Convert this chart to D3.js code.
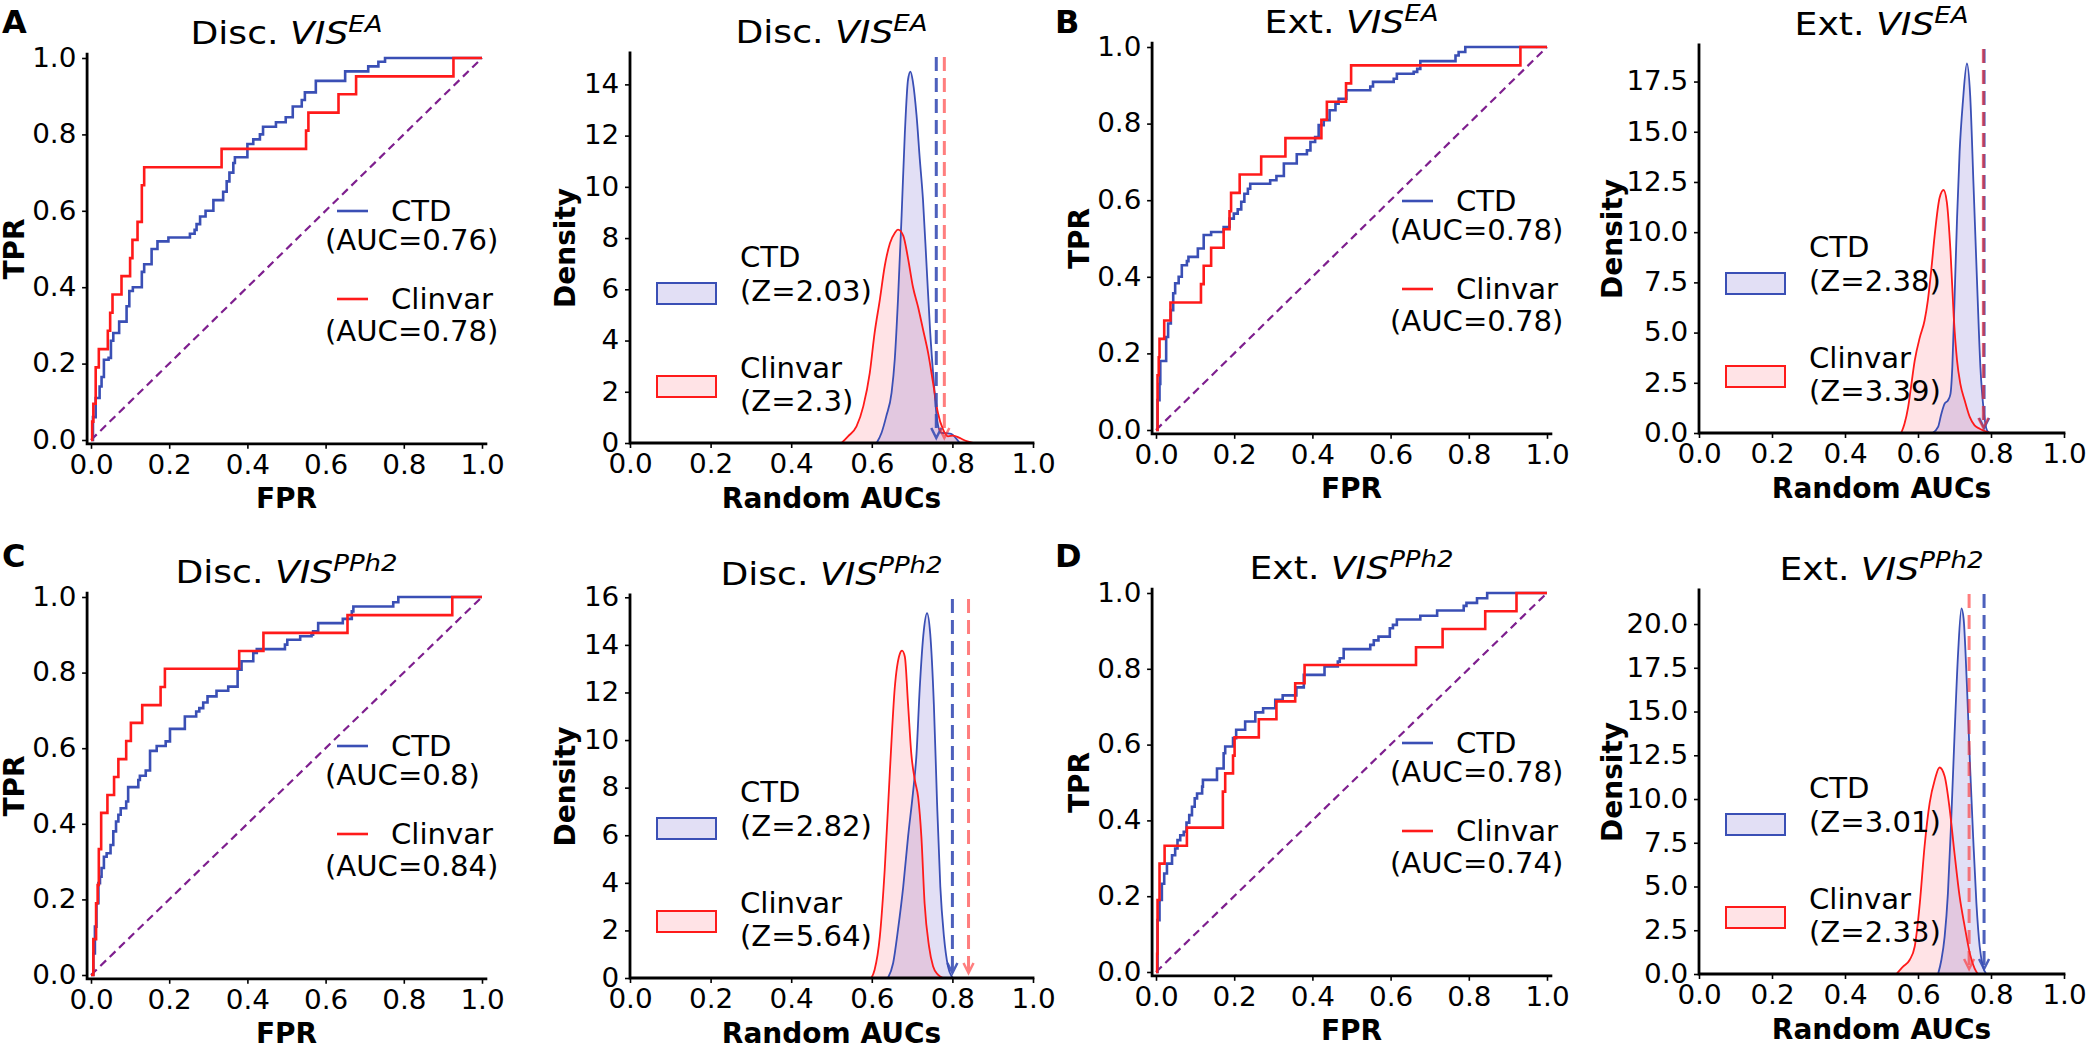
<!DOCTYPE html>
<html><head><meta charset="utf-8">
<script src="https://cdn.jsdelivr.net/npm/d3@7"></script>
<style>
body{margin:0;background:#fff}
svg{display:block}
text{font-family:"DejaVu Sans",sans-serif;fill:#000;white-space:pre}
</style>
</head><body>
<svg id="c" width="2100" height="1047"></svg>
<script>
// ---------------- DATA ----------------
const seriesNames = ["CTD", "Clinvar"];
const panelLetters = ["A", "B", "C", "D"];
const panelPrefixes = ["Disc.", "Ext.", "Disc.", "Ext."];
const panelSups = ["EA", "EA", "PPh2", "PPh2"];
const unitTicks = [0, 0.2, 0.4, 0.6, 0.8, 1.0];

// ROC step points [FPR, TPR reached at that FPR]
const rocA_ctd = [[0,0],[0.005,0.06],[0.012,0.11],[0.022,0.14],[0.027,0.165],[0.033,0.21],[0.045,0.215],[0.051,0.26],[0.057,0.28],[0.072,0.31],[0.091,0.35],[0.098,0.39],[0.107,0.40],[0.13,0.44],[0.136,0.46],[0.155,0.50],[0.17,0.52],[0.198,0.53],[0.253,0.54],[0.265,0.55],[0.27,0.565],[0.279,0.585],[0.293,0.60],[0.313,0.628],[0.338,0.65],[0.347,0.677],[0.354,0.70],[0.364,0.725],[0.368,0.74],[0.40,0.775],[0.415,0.787],[0.432,0.80],[0.44,0.82],[0.473,0.832],[0.498,0.845],[0.516,0.873],[0.539,0.89],[0.547,0.91],[0.575,0.94],[0.65,0.965],[0.709,0.978],[0.735,0.99],[0.752,1.0],[1,1]];
const rocA_clinvar = [[0,0],[0.003,0.048],[0.006,0.095],[0.012,0.19],[0.02,0.238],[0.043,0.286],[0.049,0.333],[0.055,0.381],[0.078,0.429],[0.10,0.476],[0.106,0.524],[0.119,0.571],[0.13,0.667],[0.136,0.714],[0.334,0.762],[0.55,0.81],[0.556,0.857],[0.633,0.905],[0.678,0.952],[0.927,1.0],[1,1]];
const rocB_ctd = [[0,0],[0.004,0.078],[0.009,0.12],[0.011,0.18],[0.026,0.243],[0.031,0.278],[0.038,0.313],[0.044,0.357],[0.049,0.383],[0.058,0.40],[0.066,0.43],[0.079,0.441],[0.083,0.452],[0.107,0.474],[0.122,0.509],[0.141,0.517],[0.173,0.53],[0.188,0.552],[0.199,0.565],[0.209,0.576],[0.218,0.596],[0.226,0.617],[0.235,0.63],[0.241,0.643],[0.292,0.652],[0.308,0.663],[0.327,0.696],[0.36,0.72],[0.386,0.73],[0.395,0.752],[0.407,0.765],[0.416,0.796],[0.429,0.809],[0.444,0.835],[0.459,0.852],[0.467,0.865],[0.487,0.887],[0.548,0.897],[0.555,0.909],[0.608,0.917],[0.616,0.93],[0.659,0.935],[0.668,0.943],[0.676,0.963],[0.766,0.978],[0.774,0.987],[0.791,1.0],[1,1]];
const rocB_clinvar = [[0,0],[0.004,0.143],[0.007,0.19],[0.009,0.238],[0.021,0.286],[0.037,0.333],[0.115,0.381],[0.122,0.429],[0.141,0.476],[0.173,0.524],[0.188,0.571],[0.192,0.619],[0.214,0.667],[0.269,0.714],[0.331,0.762],[0.423,0.81],[0.437,0.857],[0.486,0.905],[0.499,0.952],[0.932,1.0],[1,1]];
const rocC_ctd = [[0,0],[0.006,0.057],[0.01,0.128],[0.014,0.19],[0.019,0.243],[0.023,0.26],[0.027,0.283],[0.033,0.313],[0.04,0.322],[0.05,0.344],[0.057,0.38],[0.064,0.406],[0.07,0.424],[0.076,0.441],[0.09,0.459],[0.095,0.497],[0.121,0.516],[0.125,0.527],[0.14,0.541],[0.151,0.593],[0.168,0.606],[0.191,0.618],[0.202,0.651],[0.24,0.684],[0.269,0.697],[0.277,0.706],[0.287,0.721],[0.298,0.737],[0.321,0.752],[0.351,0.763],[0.375,0.808],[0.385,0.83],[0.415,0.852],[0.424,0.862],[0.496,0.874],[0.502,0.887],[0.535,0.896],[0.564,0.9],[0.568,0.909],[0.581,0.931],[0.644,0.942],[0.667,0.962],[0.671,0.975],[0.773,0.986],[0.786,1.0],[1,1]];
const rocC_clinvar = [[0,0],[0.006,0.095],[0.013,0.19],[0.017,0.238],[0.02,0.333],[0.026,0.429],[0.042,0.476],[0.059,0.524],[0.07,0.571],[0.09,0.619],[0.102,0.667],[0.131,0.714],[0.178,0.762],[0.189,0.81],[0.379,0.857],[0.441,0.905],[0.656,0.952],[0.924,1.0],[1,1]];
const rocD_ctd = [[0,0],[0.004,0.137],[0.009,0.19],[0.015,0.233],[0.021,0.26],[0.028,0.286],[0.041,0.308],[0.049,0.326],[0.055,0.348],[0.062,0.361],[0.071,0.37],[0.078,0.394],[0.085,0.414],[0.092,0.436],[0.099,0.458],[0.105,0.471],[0.118,0.489],[0.12,0.507],[0.156,0.537],[0.173,0.577],[0.177,0.595],[0.197,0.617],[0.205,0.639],[0.228,0.661],[0.254,0.685],[0.274,0.696],[0.305,0.718],[0.324,0.73],[0.359,0.751],[0.378,0.784],[0.431,0.806],[0.465,0.819],[0.47,0.828],[0.48,0.852],[0.548,0.863],[0.557,0.875],[0.569,0.885],[0.598,0.907],[0.606,0.916],[0.616,0.93],[0.676,0.94],[0.719,0.954],[0.787,0.966],[0.794,0.974],[0.821,0.986],[0.847,1.0],[1,1]];
const rocD_clinvar = [[0,0],[0.003,0.048],[0.004,0.19],[0.009,0.286],[0.022,0.333],[0.079,0.381],[0.171,0.476],[0.177,0.524],[0.197,0.571],[0.201,0.619],[0.263,0.667],[0.308,0.714],[0.356,0.762],[0.38,0.81],[0.665,0.857],[0.733,0.905],[0.842,0.952],[0.922,1.0],[1,1]];
const chanceLine = [[0,0],[1,1]];

const aucLabels = [["0.76","0.78"],["0.78","0.78"],["0.8","0.84"],["0.78","0.74"]];
const observedAUC = [[0.76,0.78],[0.781,0.779],[0.80,0.84],[0.781,0.74]];
const zLabels = [["2.03","2.3"],["2.38","3.39"],["2.82","5.64"],["3.01","2.33"]];

// KDE of random AUCs [AUC, density]
const densA_ctd = [[0.612,0],[0.624,0.39],[0.636,1.05],[0.649,1.96],[0.657,3.27],[0.665,5.6],[0.674,8.9],[0.682,12.1],[0.69,14.2],[0.696,14.5],[0.702,14.1],[0.711,12.8],[0.719,11.1],[0.727,9.5],[0.736,6.9],[0.745,4.3],[0.754,2.35],[0.762,0.9],[0.772,0.4],[0.785,0.38],[0.797,0.36],[0.808,0.2],[0.818,0]];
const densA_clinvar = [[0.525,0],[0.541,0.26],[0.562,0.65],[0.579,1.44],[0.595,2.74],[0.607,4.3],[0.62,5.6],[0.632,6.9],[0.645,7.8],[0.657,8.2],[0.665,8.33],[0.678,8.1],[0.69,7.2],[0.702,6.1],[0.715,5.3],[0.727,4.44],[0.74,3.5],[0.752,2.35],[0.764,1.18],[0.777,0.52],[0.789,0.26],[0.802,0.29],[0.818,0.2],[0.835,0.07],[0.851,0]];
const densB_ctd = [[0.64,0],[0.655,0.3],[0.664,0.96],[0.673,1.46],[0.682,1.62],[0.689,1.95],[0.694,3.27],[0.7,6.6],[0.707,10.7],[0.714,14.0],[0.723,16.5],[0.734,18.4],[0.743,16.8],[0.752,12.4],[0.762,7.4],[0.771,3.27],[0.78,1.12],[0.789,0.13],[0.796,0]];
const densB_clinvar = [[0.554,0],[0.563,0.46],[0.573,1.29],[0.582,2.45],[0.591,3.6],[0.605,4.76],[0.618,5.6],[0.627,6.6],[0.637,8.24],[0.646,9.9],[0.659,11.7],[0.67,12.1],[0.679,11.5],[0.689,9.06],[0.698,5.76],[0.707,3.6],[0.716,2.45],[0.728,1.62],[0.742,0.79],[0.755,0.38],[0.769,0.21],[0.783,0.1],[0.796,0]];
const densC_ctd = [[0.64,0],[0.653,0.63],[0.665,2.03],[0.678,3.84],[0.69,5.94],[0.702,7.76],[0.711,9.43],[0.719,12.2],[0.729,14.6],[0.737,15.33],[0.745,14.46],[0.754,11.5],[0.762,7.34],[0.77,3.84],[0.779,1.75],[0.789,0.49],[0.798,0.07],[0.802,0]];
const densC_clinvar = [[0.599,0],[0.607,0.35],[0.62,1.75],[0.632,4.54],[0.645,8.73],[0.657,12.2],[0.669,13.6],[0.675,13.76],[0.682,13.5],[0.69,11.5],[0.698,9.43],[0.707,8.3],[0.715,7.6],[0.723,5.94],[0.731,3.14],[0.742,1.33],[0.752,0.49],[0.764,0.14],[0.777,0]];
const densD_ctd = [[0.655,0],[0.664,0.8],[0.673,2.14],[0.682,4.62],[0.691,8.8],[0.7,13.6],[0.71,18.4],[0.719,20.9],[0.725,20.3],[0.734,16.5],[0.743,11.7],[0.751,7.87],[0.76,4.05],[0.769,1.57],[0.778,0.42],[0.787,0]];
const densD_clinvar = [[0.541,0],[0.559,0.42],[0.577,0.8],[0.591,1.57],[0.605,4.05],[0.618,7.3],[0.632,9.78],[0.646,11.1],[0.659,11.8],[0.673,11.3],[0.687,9.4],[0.7,6.9],[0.714,4.43],[0.728,2.71],[0.742,1.18],[0.755,0.32],[0.764,0]];

const densTicksA = [0,2,4,6,8,10,12,14];
const densTicksB = [0,2.5,5,7.5,10,12.5,15,17.5];
const densTicksC = [0,2,4,6,8,10,12,14,16];
const densTicksD = [0,2.5,5,7.5,10,12.5,15,17.5,20];

// ---------------- DRAWING ----------------
const svg = d3.select("#c");
const BLUE = "#3a4fb5", RED = "#ff1a1a", PURPLE = "#7e1f8e";
const BLUE_FILL = "rgba(96,80,200,0.18)", RED_FILL = "rgba(255,40,60,0.13)";

function txt(g, x, y, s, o = {}) {
  const size = o.size || 28, sx = o.sx || 1.04;
  return g.append("text")
    .attr("transform", `translate(${x},${y}) scale(${sx},1)` + (o.rot ? ` rotate(${o.rot})` : ""))
    .attr("font-size", size).attr("font-weight", o.weight || "normal")
    .attr("text-anchor", o.anchor || "start").text(s);
}
function title(g, cx, y, pre, sup) {
  const t = g.append("text").attr("transform", `translate(${cx},${y}) scale(1.13,1)`)
    .attr("text-anchor", "middle").attr("font-size", 32);
  t.append("tspan").text(pre + " ");
  t.append("tspan").attr("font-style", "italic").text("VIS");
  t.append("tspan").attr("font-style", "italic").attr("font-size", 23).attr("dy", -12).text(sup);
}
function styleAxis(a) {
  a.select(".domain").remove();
  a.selectAll(".tick line").attr("stroke", "#000").attr("stroke-width", 1.6);
  a.selectAll(".tick text").attr("font-size", 26).attr("fill", "#000")
    .attr("font-family", "DejaVu Sans, sans-serif")
    .attr("transform", "scale(1.07,1)");
}
function spines(g, L, T, B, R) {
  g.append("path").attr("d", `M${L},${T}V${B}H${R}`).attr("fill", "none")
    .attr("stroke", "#000").attr("stroke-width", 2.8).attr("stroke-linecap", "square");
}

function drawROC(i, p, ctd, clin) {
  const g = svg.append("g");
  const x = d3.scaleLinear().domain([0, 1]).range([p.x0, p.x1]);
  const y = d3.scaleLinear().domain([0, 1]).range([p.y0, p.y1]);
  const L = x(-0.01), R = x(1.01), B = y(-0.01), T = y(1.01);
  const xa = g.append("g").attr("transform", `translate(0,${B})`)
    .call(d3.axisBottom(x).tickValues(unitTicks).tickFormat(d3.format(".1f")).tickSize(5).tickPadding(7));
  const ya = g.append("g").attr("transform", `translate(${L},0)`)
    .call(d3.axisLeft(y).tickValues(unitTicks).tickFormat(d3.format(".1f")).tickSize(5).tickPadding(5));
  styleAxis(xa); styleAxis(ya);
  const lin = d3.line().x(d => x(d[0])).y(d => y(d[1]));
  g.append("path").attr("d", lin(chanceLine)).attr("fill", "none").attr("stroke", PURPLE)
    .attr("stroke-width", 2.2).attr("stroke-dasharray", "8,5");
  const step = d3.line().x(d => x(d[0])).y(d => y(d[1])).curve(d3.curveStepAfter);
  g.append("path").attr("d", step(ctd)).attr("fill", "none").attr("stroke", BLUE).attr("stroke-width", 2.6);
  g.append("path").attr("d", step(clin)).attr("fill", "none").attr("stroke", RED).attr("stroke-width", 2.6);
  spines(g, L, T, B, R);
  // legend
  const ox = x(0), oy = y(0);
  [[-229, -219, -190, BLUE, 0], [-141, -131, -99, RED, 1]].forEach(([hy, t1, t2, col, k]) => {
    g.append("line").attr("x1", ox + 246).attr("x2", ox + 277).attr("y1", oy + hy).attr("y2", oy + hy)
      .attr("stroke", col).attr("stroke-width", 2.6);
    txt(g, ox + 300, oy + t1, seriesNames[k]);
    txt(g, ox + 234, oy + t2, `(AUC=${aucLabels[i][k]})`);
  });
  title(g, (L + R) / 2, T - 10, panelPrefixes[i], panelSups[i]);
  txt(g, (L + R) / 2, oy + 68, "FPR", { weight: "bold", anchor: "middle", sx: 1.0 });
  txt(g, L - 63, (T + B) / 2, "TPR", { weight: "bold", anchor: "middle", sx: 1.0, rot: -90 });
  txt(g, p.letterX, p.letterY, panelLetters[i], { weight: "bold", size: 32, sx: 1.0 });
}

function drawDensity(i, p, ctd, clin, ticks, fmt) {
  const g = svg.append("g");
  const ymax = d3.max(ctd.concat(clin), d => d[1]) * 1.05;
  const x = d3.scaleLinear().domain([0, 1]).range([p.x0, p.x1]);
  const y = d3.scaleLinear().domain([0, ymax]).range([p.yb, p.yt]);
  const xa = g.append("g").attr("transform", `translate(0,${p.yb})`)
    .call(d3.axisBottom(x).tickValues(unitTicks).tickFormat(d3.format(".1f")).tickSize(5).tickPadding(7));
  const ya = g.append("g").attr("transform", `translate(${p.x0},0)`)
    .call(d3.axisLeft(y).tickValues(ticks).tickFormat(d3.format(fmt)).tickSize(5).tickPadding(5));
  styleAxis(xa); styleAxis(ya);
  const area = d3.area().x(d => x(d[0])).y0(y(0)).y1(d => y(d[1])).curve(d3.curveMonotoneX);
  const line = d3.line().x(d => x(d[0])).y(d => y(d[1])).curve(d3.curveMonotoneX);
  g.append("path").attr("d", area(clin)).attr("fill", RED_FILL);
  g.append("path").attr("d", area(ctd)).attr("fill", BLUE_FILL);
  g.append("path").attr("d", line(ctd)).attr("fill", "none").attr("stroke", BLUE).attr("stroke-width", 1.8);
  g.append("path").attr("d", line(clin)).attr("fill", "none").attr("stroke", RED).attr("stroke-width", 1.8);
  // observed AUC arrows
  [[BLUE, 0.9, 0], ["#ff2a2a", 0.6, 1]].forEach(([col, op, k]) => {
    const ax = x(observedAUC[i][k]);
    const tip = p.yb - 5;
    const ga = g.append("g").attr("opacity", op);
    ga.append("line").attr("x1", ax).attr("x2", ax).attr("y1", p.yt + 4).attr("y2", tip - 2)
      .attr("stroke", col).attr("stroke-width", 3).attr("stroke-dasharray", "14,7");
    ga.append("path").attr("d", `M${ax - 5},${tip - 10}L${ax},${tip}L${ax + 5},${tip - 10}`)
      .attr("fill", "none").attr("stroke", col).attr("stroke-width", 2.5);
  });
  spines(g, p.x0, p.yt, p.yb, p.x1);
  // legend
  const ox = p.x0, oy = p.yb;
  [[-160, -176, -142, BLUE, BLUE_FILL, 0], [-67, -65, -32, RED, RED_FILL, 1]].forEach(([py, t1, t2, col, fill, k]) => {
    g.append("rect").attr("x", ox + 27).attr("y", oy + py).attr("width", 59).attr("height", 21)
      .attr("fill", fill).attr("stroke", col).attr("stroke-width", 2);
    txt(g, ox + 110, oy + t1, seriesNames[k]);
    txt(g, ox + 110, oy + t2, `(Z=${zLabels[i][k]})`);
  });
  title(g, (p.x0 + p.x1) / 2, p.yt - 10, panelPrefixes[i], panelSups[i]);
  txt(g, (p.x0 + p.x1) / 2, oy + 65, "Random AUCs", { weight: "bold", anchor: "middle", sx: 1.0 });
  txt(g, p.x0 - p.lab, (p.yt + p.yb) / 2, "Density", { weight: "bold", anchor: "middle", sx: 1.0, rot: -90 });
}

drawROC(0, { x0: 91, x1: 482, y0: 440, y1: 58, letterX: 2, letterY: 33 }, rocA_ctd, rocA_clinvar);
drawROC(1, { x0: 1156, x1: 1547, y0: 430, y1: 47, letterX: 1055, letterY: 33 }, rocB_ctd, rocB_clinvar);
drawROC(2, { x0: 91, x1: 482, y0: 975, y1: 597, letterX: 2, letterY: 567 }, rocC_ctd, rocC_clinvar);
drawROC(3, { x0: 1156, x1: 1547, y0: 972, y1: 593, letterX: 1055, letterY: 567 }, rocD_ctd, rocD_clinvar);

drawDensity(0, { x0: 630, x1: 1033, yb: 443, yt: 53, lab: 55 }, densA_ctd, densA_clinvar, densTicksA, "d");
drawDensity(1, { x0: 1699, x1: 2064, yb: 433, yt: 45, lab: 77 }, densB_ctd, densB_clinvar, densTicksB, ".1f");
drawDensity(2, { x0: 630, x1: 1033, yb: 978, yt: 595, lab: 55 }, densC_ctd, densC_clinvar, densTicksC, "d");
drawDensity(3, { x0: 1699, x1: 2064, yb: 974, yt: 590, lab: 77 }, densD_ctd, densD_clinvar, densTicksD, ".1f");
</script>
</body></html>
